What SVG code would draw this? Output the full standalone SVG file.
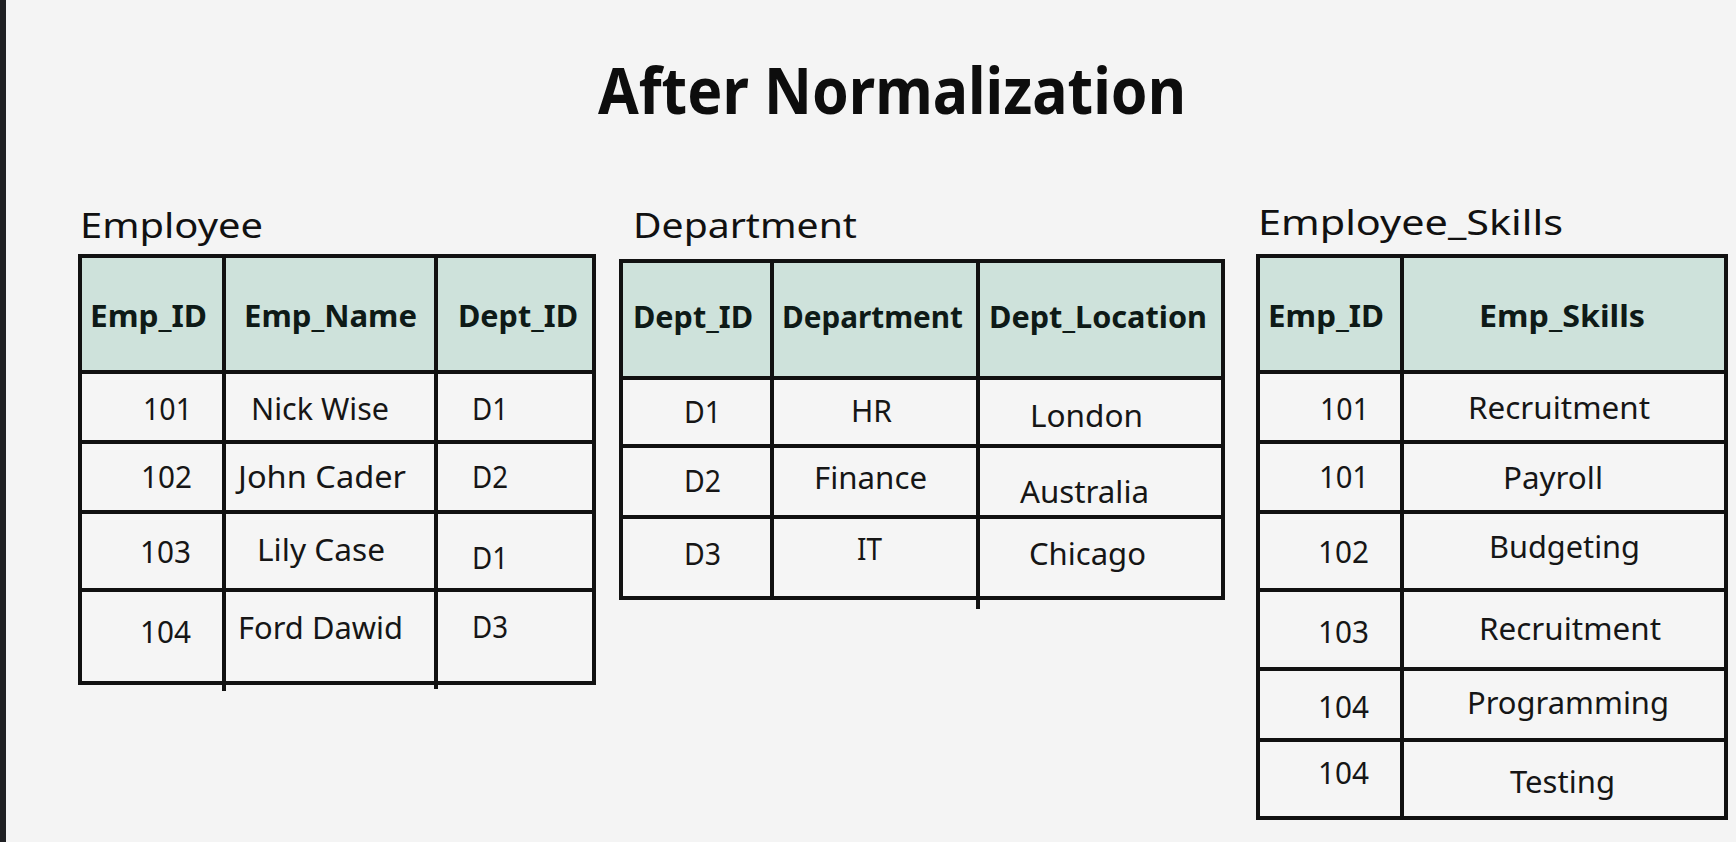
<svg xmlns="http://www.w3.org/2000/svg" width="1736" height="842" viewBox="0 0 1736 842">
<style>
.title{font-family:"Noto Sans","Open Sans",sans-serif;font-weight:700;font-size:65px;fill:#0d0d0d}
.lbl{font-family:"Noto Sans","Open Sans",sans-serif;font-size:35px;fill:#111}
.hd{font-family:"Noto Sans","Open Sans",sans-serif;font-weight:700;font-size:30px;fill:#0e1a17}
.cell{font-family:"Noto Sans","Open Sans",sans-serif;font-size:30px;fill:#161616}
.hfill{fill:#cee2db}
.bfill{fill:#f5f5f5}
.grid{stroke:#111;stroke-width:4;fill:none;stroke-linecap:square}
</style>
<rect x="0" y="0" width="1736" height="842" fill="#f4f4f4"/>
<rect x="0" y="0" width="6" height="842" fill="#1f2023"/>

<text class="title" x="598" y="114" textLength="588" lengthAdjust="spacingAndGlyphs">After Normalization</text>

<g id="employee">
  <text class="lbl" x="80" y="238" textLength="183" lengthAdjust="spacingAndGlyphs">Employee</text>
  <rect class="hfill" x="80" y="256" width="514" height="116"/>
  <rect class="bfill" x="80" y="372" width="514" height="311"/>
  <rect class="grid" x="80" y="256" width="514" height="427"/>
  <path class="grid" d="M224 256V689M436 256V687M80 372H594M80 442H594M80 512H594M80 590H594"/>
  <text class="hd" x="90" y="327" textLength="117" lengthAdjust="spacingAndGlyphs">Emp_ID</text>
  <text class="hd" x="244" y="327" textLength="173" lengthAdjust="spacingAndGlyphs">Emp_Name</text>
  <text class="hd" x="458" y="327" textLength="120" lengthAdjust="spacingAndGlyphs">Dept_ID</text>
  <text class="cell" x="143" y="420" textLength="49" lengthAdjust="spacingAndGlyphs">101</text>
  <text class="cell" x="251" y="420" textLength="138" lengthAdjust="spacingAndGlyphs">Nick Wise</text>
  <text class="cell" x="472" y="420" textLength="36" lengthAdjust="spacingAndGlyphs">D1</text>
  <text class="cell" x="141" y="488" textLength="51" lengthAdjust="spacingAndGlyphs">102</text>
  <text class="cell" x="238" y="488" textLength="168" lengthAdjust="spacingAndGlyphs">John Cader</text>
  <text class="cell" x="472" y="488" textLength="36" lengthAdjust="spacingAndGlyphs">D2</text>
  <text class="cell" x="140" y="563" textLength="51" lengthAdjust="spacingAndGlyphs">103</text>
  <text class="cell" x="257" y="561" textLength="128" lengthAdjust="spacingAndGlyphs">Lily Case</text>
  <text class="cell" x="472" y="569" textLength="36" lengthAdjust="spacingAndGlyphs">D1</text>
  <text class="cell" x="140" y="643" textLength="51" lengthAdjust="spacingAndGlyphs">104</text>
  <text class="cell" x="238" y="639" textLength="165" lengthAdjust="spacingAndGlyphs">Ford Dawid</text>
  <text class="cell" x="472" y="638" textLength="36" lengthAdjust="spacingAndGlyphs">D3</text>
</g>

<g id="department">
  <text class="lbl" x="633" y="238" textLength="224" lengthAdjust="spacingAndGlyphs">Department</text>
  <rect class="hfill" x="621" y="261" width="602" height="117"/>
  <rect class="bfill" x="621" y="378" width="602" height="220"/>
  <rect class="grid" x="621" y="261" width="602" height="337"/>
  <path class="grid" d="M772 261V598M978 261V607M621 378H1223M621 446H1223M621 517H1223"/>
  <text class="hd" x="633" y="328" textLength="120" lengthAdjust="spacingAndGlyphs">Dept_ID</text>
  <text class="hd" x="782" y="328" textLength="181" lengthAdjust="spacingAndGlyphs">Department</text>
  <text class="hd" x="989" y="328" textLength="218" lengthAdjust="spacingAndGlyphs">Dept_Location</text>
  <text class="cell" x="684" y="423" textLength="37" lengthAdjust="spacingAndGlyphs">D1</text>
  <text class="cell" x="851" y="422" textLength="41" lengthAdjust="spacingAndGlyphs">HR</text>
  <text class="cell" x="1030" y="427" textLength="113" lengthAdjust="spacingAndGlyphs">London</text>
  <text class="cell" x="684" y="492" textLength="37" lengthAdjust="spacingAndGlyphs">D2</text>
  <text class="cell" x="814" y="489" textLength="113" lengthAdjust="spacingAndGlyphs">Finance</text>
  <text class="cell" x="1020" y="503" textLength="129" lengthAdjust="spacingAndGlyphs">Australia</text>
  <text class="cell" x="684" y="565" textLength="37" lengthAdjust="spacingAndGlyphs">D3</text>
  <text class="cell" x="857" y="560" textLength="25" lengthAdjust="spacingAndGlyphs">IT</text>
  <text class="cell" x="1029" y="565" textLength="117" lengthAdjust="spacingAndGlyphs">Chicago</text>
</g>

<g id="employee_skills">
  <text class="lbl" x="1258" y="235" textLength="305" lengthAdjust="spacingAndGlyphs">Employee_Skills</text>
  <rect class="hfill" x="1258" y="256" width="468" height="116"/>
  <rect class="bfill" x="1258" y="372" width="468" height="446"/>
  <rect class="grid" x="1258" y="256" width="468" height="562"/>
  <path class="grid" d="M1402 256V818M1258 372H1726M1258 442H1726M1258 512H1726M1258 590H1726M1258 669H1726M1258 740H1726"/>
  <text class="hd" x="1268" y="327" textLength="116" lengthAdjust="spacingAndGlyphs">Emp_ID</text>
  <text class="hd" x="1479" y="327" textLength="166" lengthAdjust="spacingAndGlyphs">Emp_Skills</text>
  <text class="cell" x="1320" y="420" textLength="49" lengthAdjust="spacingAndGlyphs">101</text>
  <text class="cell" x="1468" y="419" textLength="182" lengthAdjust="spacingAndGlyphs">Recruitment</text>
  <text class="cell" x="1319" y="488" textLength="50" lengthAdjust="spacingAndGlyphs">101</text>
  <text class="cell" x="1503" y="489" textLength="100" lengthAdjust="spacingAndGlyphs">Payroll</text>
  <text class="cell" x="1318" y="563" textLength="51" lengthAdjust="spacingAndGlyphs">102</text>
  <text class="cell" x="1489" y="558" textLength="151" lengthAdjust="spacingAndGlyphs">Budgeting</text>
  <text class="cell" x="1318" y="643" textLength="51" lengthAdjust="spacingAndGlyphs">103</text>
  <text class="cell" x="1479" y="640" textLength="182" lengthAdjust="spacingAndGlyphs">Recruitment</text>
  <text class="cell" x="1318" y="718" textLength="51" lengthAdjust="spacingAndGlyphs">104</text>
  <text class="cell" x="1467" y="714" textLength="202" lengthAdjust="spacingAndGlyphs">Programming</text>
  <text class="cell" x="1318" y="784" textLength="51" lengthAdjust="spacingAndGlyphs">104</text>
  <text class="cell" x="1510" y="793" textLength="105" lengthAdjust="spacingAndGlyphs">Testing</text>
</g>
</svg>
